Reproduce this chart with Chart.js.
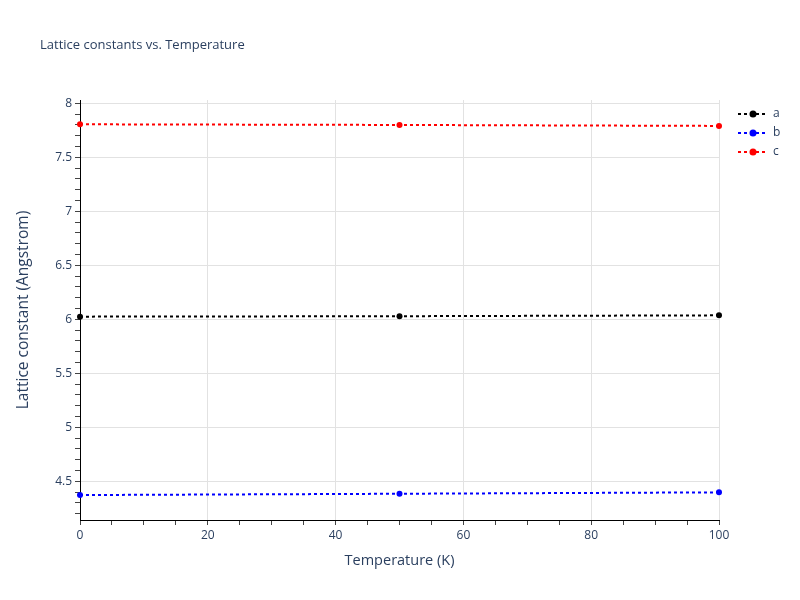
<!DOCTYPE html>
<html>
<head>
<meta charset="utf-8">
<script src="https://cdn.jsdelivr.net/npm/chart.js@4"></script>
<style>
html,body{margin:0;padding:0;background:#fff;}
#wrap{width:800px;height:600px;position:relative;}
</style>
</head>
<body>
<div id="wrap"><canvas id="c" width="800" height="600"></canvas></div>
<script>
const temperatures = [0, 50, 100];
const seriesNames = ['a', 'b', 'c'];
const aValues = [6.025, 6.029, 6.037];
const bValues = [4.373, 4.385, 4.398];
const cValues = [7.806, 7.800, 7.791];
const seriesColors = ['#000000', '#0000ff', '#ff0000'];
const xTickLabels = [0, 20, 40, 60, 80, 100];
const yTickLabels = [4.5, 5, 5.5, 6, 6.5, 7, 7.5, 8];
const chartTitle = 'Lattice constants vs. Temperature';
const xTitle = 'Temperature (K)';
const yTitle = 'Lattice constant (Angstrom)';

const FONT = '"Open Sans", "DejaVu Sans", sans-serif';
const TEXT = '#2a3f5f';
const GRID = '#e2e2e2';

const allValues = [aValues, bValues, cValues];
const datasets = seriesNames.map((n, i) => ({
  label: n,
  data: temperatures.map((t, j) => ({x: t, y: allValues[i][j]})),
  borderColor: seriesColors[i],
  backgroundColor: seriesColors[i],
  borderWidth: 2,
  borderDash: [3, 3],
  pointRadius: 3,
  pointHoverRadius: 3,
  pointBorderWidth: 0,
  tension: 0,
  clip: false
}));

function isMajor(v, labels) {
  return labels.some(l => Math.abs(l - v) < 1e-6);
}

const extras = {
  id: 'extras',
  afterDraw(chart) {
    const ctx = chart.ctx;
    ctx.save();
    ctx.fillStyle = TEXT;
    ctx.font = '13px ' + FONT;
    ctx.textBaseline = 'middle';
    ctx.textAlign = 'left';
    ctx.fillText(chartTitle, 40, 45);
    chart.data.datasets.forEach((ds, i) => {
      const y = 114 + i * 19;
      ctx.strokeStyle = ds.borderColor;
      ctx.lineWidth = 2;
      ctx.setLineDash([3, 3]);
      ctx.beginPath();
      ctx.moveTo(738, y);
      ctx.lineTo(768, y);
      ctx.stroke();
      ctx.setLineDash([]);
      ctx.fillStyle = ds.backgroundColor;
      ctx.beginPath();
      ctx.arc(753, y, 3.5, 0, Math.PI * 2);
      ctx.fill();
      ctx.fillStyle = TEXT;
      ctx.font = '12px ' + FONT;
      ctx.textAlign = 'left';
      ctx.fillText(ds.label, 773, y);
    });
    ctx.restore();
  }
};

new Chart(document.getElementById('c'), {
  type: 'line',
  data: {datasets},
  plugins: [extras],
  options: {
    responsive: false,
    animation: false,
    devicePixelRatio: 1,
    layout: {padding: {left: 0, right: 81, top: 100, bottom: 0}},
    plugins: {legend: {display: false}, title: {display: false}, tooltip: {enabled: false}},
    scales: {
      x: {
        type: 'linear',
        min: 0, max: 100,
        afterBuildTicks(scale) {
          const t = [];
          for (let v = 0; v <= 100; v += 5) t.push({value: v});
          scale.ticks = t;
        },
        afterFit(scale) { scale.height = 80; },
        ticks: {
          autoSkip: false, maxRotation: 0, padding: 3,
          color: TEXT, font: {family: FONT, size: 12},
          callback: (v) => isMajor(v, xTickLabels) ? String(v) : ''
        },
        grid: {
          color: (c) => (c.tick && isMajor(c.tick.value, xTickLabels) && c.tick.value !== 0) ? GRID : 'rgba(0,0,0,0)',
          tickColor: '#444',
          tickLength: 5,
          lineWidth: 1,
          drawTicks: true
        },
        border: {display: true, color: '#000', width: 1},
        title: {display: true, text: xTitle, color: TEXT, font: {family: FONT, size: 14.5}, padding: {top: 0, bottom: 30}}
      },
      y: {
        type: 'linear',
        min: 4.142, max: 8.031,
        afterBuildTicks(scale) {
          const t = [];
          for (let k = 42; k <= 80; k++) t.push({value: k / 10});
          scale.ticks = t;
        },
        afterFit(scale) { scale.width = 80; },
        ticks: {
          autoSkip: false, padding: 3,
          color: TEXT, font: {family: FONT, size: 12},
          callback: (v) => isMajor(v, yTickLabels) ? String(Math.round(v * 10) / 10) : ''
        },
        grid: {
          color: (c) => (c.tick && isMajor(c.tick.value, yTickLabels)) ? GRID : 'rgba(0,0,0,0)',
          tickColor: '#444',
          tickLength: 5,
          lineWidth: 1
        },
        border: {display: true, color: '#000', width: 1},
        title: {display: true, text: yTitle, color: TEXT, font: {family: FONT, size: 15.5}, padding: {top: 14, bottom: 0}}
      }
    }
  }
});
</script>
</body>
</html>
